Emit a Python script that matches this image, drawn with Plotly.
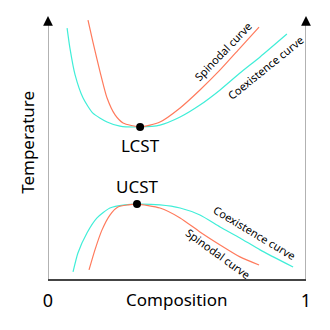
import plotly.graph_objects as go

# Composition (0..1) and temperature (arbitrary units) sampled along each branch
lcst_coex_x = [0.074, 0.085, 0.105, 0.136, 0.174, 0.229, 0.279, 0.357, 0.434, 0.512, 0.589, 0.667, 0.744, 0.822, 0.926]
lcst_coex_t = [0.965, 0.888, 0.785, 0.696, 0.638, 0.604, 0.588, 0.585, 0.592, 0.623, 0.669, 0.727, 0.792, 0.854, 0.942]

lcst_spin_x = [0.155, 0.174, 0.202, 0.229, 0.260, 0.291, 0.357, 0.434, 0.512, 0.589, 0.667, 0.744, 0.818]
lcst_spin_t = [0.996, 0.912, 0.796, 0.696, 0.631, 0.600, 0.585, 0.604, 0.658, 0.727, 0.804, 0.888, 0.969]

ucst_coex_x = [0.097, 0.116, 0.151, 0.190, 0.240, 0.298, 0.345, 0.434, 0.512, 0.589, 0.667, 0.744, 0.822, 0.950]
ucst_coex_t = [0.027, 0.100, 0.177, 0.235, 0.273, 0.285, 0.288, 0.285, 0.273, 0.246, 0.200, 0.158, 0.112, 0.046]

ucst_spin_x = [0.159, 0.182, 0.209, 0.240, 0.271, 0.310, 0.345, 0.434, 0.512, 0.589, 0.667, 0.744, 0.818]
ucst_spin_t = [0.035, 0.112, 0.188, 0.246, 0.277, 0.285, 0.288, 0.273, 0.235, 0.181, 0.131, 0.085, 0.054]

critical_names = ["LCST", "UCST"]
critical_x = [0.357, 0.345]
critical_t = [0.585, 0.288]

x_ticks = [0, 1]
x_tick_labels = ["0", "1"]

COEX = "#40eed8"
SPIN = "#ff7a5c"
FONT = "Noto Sans"

fig = go.Figure()

for xs, ts, col in [
    (lcst_coex_x, lcst_coex_t, COEX),
    (lcst_spin_x, lcst_spin_t, SPIN),
    (ucst_coex_x, ucst_coex_t, COEX),
    (ucst_spin_x, ucst_spin_t, SPIN),
]:
    fig.add_trace(go.Scatter(x=xs, y=ts, mode="lines",
                             line=dict(color=col, width=1.2, shape="spline", smoothing=0.6),
                             cliponaxis=False, hoverinfo="skip"))

fig.add_trace(go.Scatter(x=critical_x, y=critical_t, mode="markers",
                         marker=dict(color="black", size=8), cliponaxis=False))

# Critical point labels
fig.add_annotation(x=critical_x[0], y=critical_t[0], text=critical_names[0], showarrow=False,
                   yshift=-19, font=dict(family=FONT, size=17, color="black"))
fig.add_annotation(x=critical_x[1], y=critical_t[1], text=critical_names[1], showarrow=False,
                   yshift=18, font=dict(family=FONT, size=17, color="black"))

# Curve labels
curve_font = dict(family=FONT, size=11, color="black")
fig.add_annotation(x=0.677, y=0.875, text="Spinodal curve", textangle=-46,
                   showarrow=False, font=curve_font)
fig.add_annotation(x=0.843, y=0.813, text="Coexistence curve", textangle=-39,
                   showarrow=False, font=curve_font)
fig.add_annotation(x=0.800, y=0.179, text="Coexistence curve", textangle=31,
                   showarrow=False, font=curve_font)
fig.add_annotation(x=0.659, y=0.098, text="Spinodal curve", textangle=36,
                   showarrow=False, font=curve_font)

# Axis titles
fig.add_annotation(x=0.5, y=-0.077, xref="paper", yref="paper", text="Composition",
                   xanchor="center", yanchor="middle", showarrow=False,
                   font=dict(family=FONT, size=17, color="black"))
fig.add_annotation(x=-0.078, y=0.527, xref="paper", yref="paper", text="Temperature",
                   xanchor="center", yanchor="middle", textangle=-90, showarrow=False,
                   font=dict(family=FONT, size=17, color="black"))

# Vertical temperature axes with arrowheads on both sides
for xv in (0, 1):
    fig.add_shape(type="line", x0=xv, x1=xv, y0=0, y1=0.98, xref="x", yref="y",
                  line=dict(color="#999999", width=1.5))
    fig.add_annotation(x=xv, y=1.012, ax=xv, ay=0.975, xref="x", yref="y",
                       axref="x", ayref="y", showarrow=True, arrowhead=2,
                       arrowsize=1.3, arrowwidth=1.5, arrowcolor="black", text="")

fig.update_layout(
    width=330, height=330,
    margin=dict(l=48, r=24, t=19, b=51),
    paper_bgcolor="white", plot_bgcolor="white",
    showlegend=False,
    xaxis=dict(range=[0, 1], tickvals=x_ticks, ticktext=x_tick_labels,
               showgrid=False, zeroline=False, showline=True, linecolor="#444444",
               linewidth=1.6, ticks="outside", ticklen=5, tickcolor="rgba(0,0,0,0)",
               tickfont=dict(family=FONT, size=18, color="black")),
    yaxis=dict(range=[0, 1], showgrid=False, zeroline=False, showticklabels=False,
               showline=False),
)

fig.write_html("out.html")
